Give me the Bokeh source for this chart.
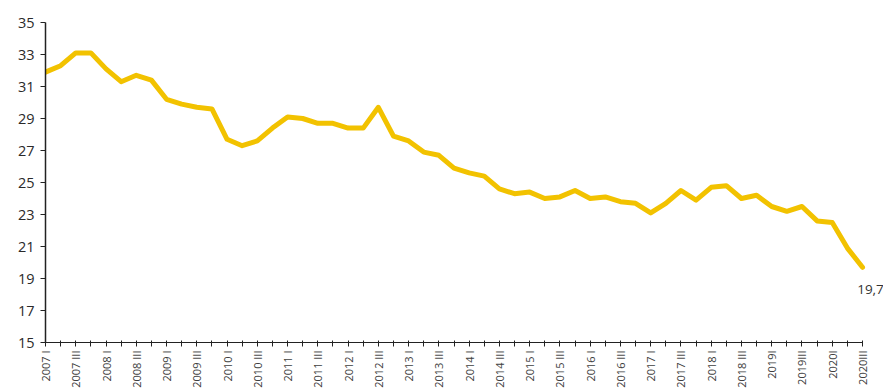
import math
from bokeh.plotting import figure
from bokeh.models import Range1d, FixedTicker, Label, ColumnDataSource
from bokeh.embed import file_html
from bokeh.resources import INLINE

values = [31.9, 32.3, 33.1, 33.1, 32.1, 31.3, 31.7, 31.4, 30.2, 29.9,
          29.7, 29.6, 27.7, 27.3, 27.6, 28.4, 29.1, 29.0, 28.7, 28.7,
          28.4, 28.4, 29.7, 27.9, 27.6, 26.9, 26.7, 25.9, 25.6, 25.4,
          24.6, 24.3, 24.4, 24.0, 24.1, 24.5, 24.0, 24.1, 23.8, 23.7,
          23.1, 23.7, 24.5, 23.9, 24.7, 24.8, 24.0, 24.2, 23.5, 23.2,
          23.5, 22.6, 22.5, 20.9, 19.7]

tick_labels = ["2007 I", "2007 III", "2008 I", "2008 III", "2009 I", "2009 III",
               "2010 I", "2010 III", "2011 I", "2011 III", "2012 I", "2012 III",
               "2013 I", "2013 III", "2014 I", "2014 III", "2015 I", "2015 III",
               "2016 I", "2016 III", "2017 I", "2017 III", "2018 I", "2018 III",
               "2019I", "2019III", "2020I", "2020III"]

y_ticks = [15, 17, 19, 21, 23, 25, 27, 29, 31, 33, 35]

xs = list(range(len(values)))
src = ColumnDataSource(dict(x=xs, y=values))

n_last = len(values) - 1
p = figure(width=883, height=392, output_backend="svg", toolbar_location=None,
           x_range=Range1d(0, n_last * 838 / 817), y_range=Range1d(15, 35),
           min_border_left=45, min_border_right=0, min_border_top=22,
           min_border_bottom=50)
p.outline_line_color = None
p.grid.grid_line_color = None
p.background_fill_color = "white"

p.line("x", "y", source=src, line_color="#F2C200", line_width=5,
       line_join="round", line_cap="round")

# x axis
overrides = {}
for i in xs:
    overrides[i] = tick_labels[i // 2] if i % 2 == 0 else ""
p.xaxis.bounds = (0, n_last)
p.xaxis.ticker = FixedTicker(ticks=xs)
p.xaxis.major_label_overrides = overrides
p.xaxis.major_label_orientation = math.pi / 2
p.xaxis.major_label_text_font = "Open Sans"
p.xaxis.major_label_text_font_size = "11px"
p.xaxis.major_label_text_color = "#404040"
p.xaxis.major_label_standoff = 4
p.xaxis.major_tick_in = 2
p.xaxis.major_tick_out = 4
p.xaxis.minor_tick_line_color = None
p.xaxis.axis_line_color = "#222222"
p.xaxis.major_tick_line_color = "#222222"

# y axis
p.yaxis.ticker = FixedTicker(ticks=y_ticks)
p.yaxis.major_label_text_font = "Open Sans"
p.yaxis.major_label_text_font_size = "14.5px"
p.yaxis.major_label_text_color = "#2a2a2a"
p.yaxis.major_label_standoff = 6
p.yaxis.major_tick_in = 0
p.yaxis.major_tick_out = 5
p.yaxis.minor_tick_line_color = None
p.yaxis.axis_line_color = "#222222"
p.yaxis.axis_line_width = 1.5
p.yaxis.major_tick_line_color = "#222222"

last = values[-1]
lbl = Label(x=xs[-1], y=last, text=f"{last}".replace(".", ","),
            x_offset=8, y_offset=-18, text_align="center", text_baseline="top",
            text_font="Open Sans", text_font_size="13.5px", text_color="#333333")
p.add_layout(lbl)

open("out.html", "w").write(file_html(p, INLINE))
